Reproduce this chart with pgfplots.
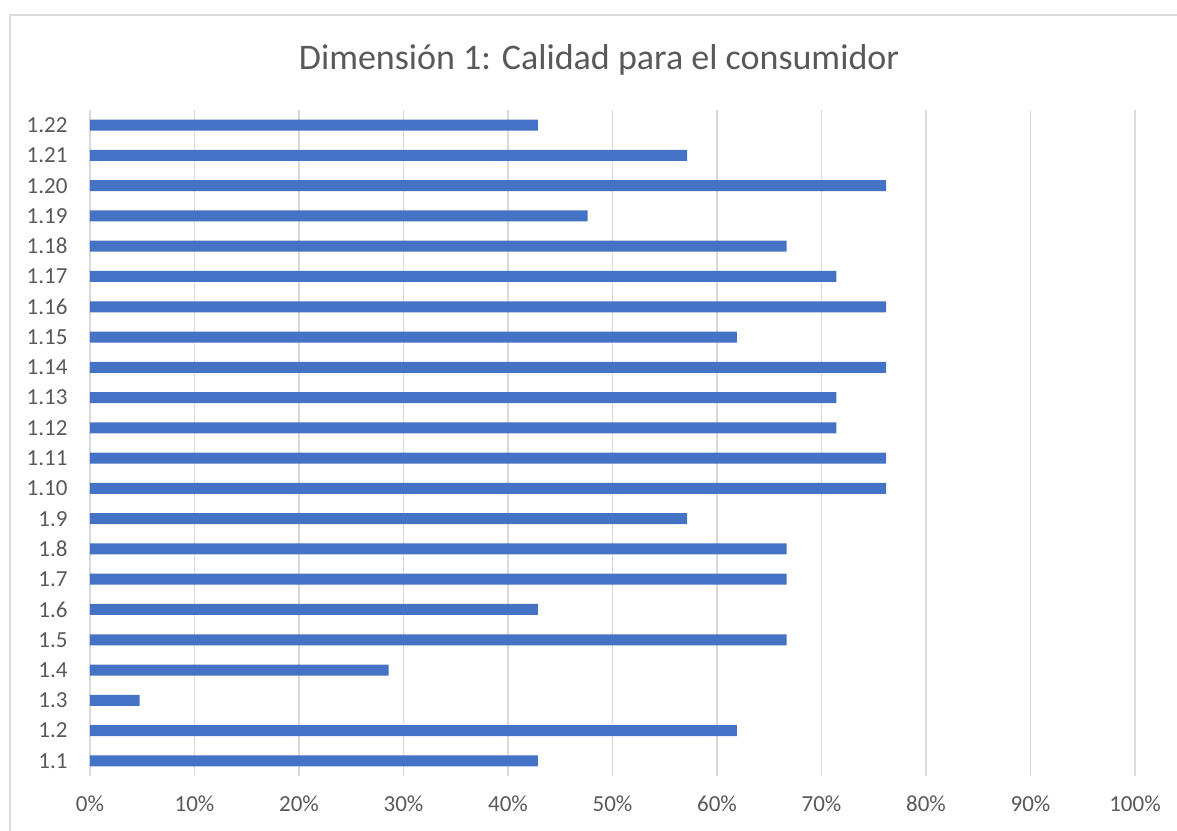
\documentclass[border=0pt]{standalone}
\usepackage{pgfplots}
\pgfplotsset{compat=1.18}
\usepackage{fontspec}
\setmainfont{Carlito}
\definecolor{barblue}{HTML}{4472C4}
\definecolor{txtgray}{HTML}{595959}
\definecolor{gridgray}{HTML}{D9D9D9}
\begin{document}
\begin{tikzpicture}
\useasboundingbox (-90bp,-55bp) rectangle (1087bp,776bp);
\begin{axis}[
  scale only axis,
  width=1045bp, height=666bp,
  xmin=0, xmax=100, ymin=0.5, ymax=22.5,
  xbar, bar width=11bp,
  axis line style={draw=none},
  major tick length=0pt,
  xmajorgrids, grid style={gridgray, line width=1.2bp},
  xtick={0,10,...,100},
  xticklabel={\pgfmathprintnumber{\tick}\%},
  ytick={1,...,22},
  yticklabels={1.1,1.2,1.3,1.4,1.5,1.6,1.7,1.8,1.9,1.10,1.11,1.12,1.13,1.14,1.15,1.16,1.17,1.18,1.19,1.20,1.21,1.22},
  /pgf/number format/assume math mode=true,
  ticklabel style={font=\fontsize{23bp}{26bp}\selectfont, text=txtgray},
  xticklabel style={yshift=-16bp},
  yticklabel style={xshift=-19bp},
]
\addplot[fill=barblue, draw=none] coordinates {
(42.86,1) (61.90,2) (4.76,3) (28.57,4) (66.67,5) (42.86,6) (66.67,7) (66.67,8) (57.14,9) (76.19,10) (76.19,11)
(71.43,12) (71.43,13) (76.19,14) (61.90,15) (76.19,16) (71.43,17) (66.67,18) (47.62,19) (76.19,20) (57.14,21) (42.86,22)
};
\end{axis}
\draw[gridgray, line width=1.5bp] (-80bp,-60bp) -- (-80bp,761bp) -- (1100bp,761bp);
\node[text=txtgray, font=\fontsize{36bp}{40bp}\selectfont] at (509bp,716bp) {Dimensión 1: Calidad para el consumidor};
\end{tikzpicture}
\end{document}
